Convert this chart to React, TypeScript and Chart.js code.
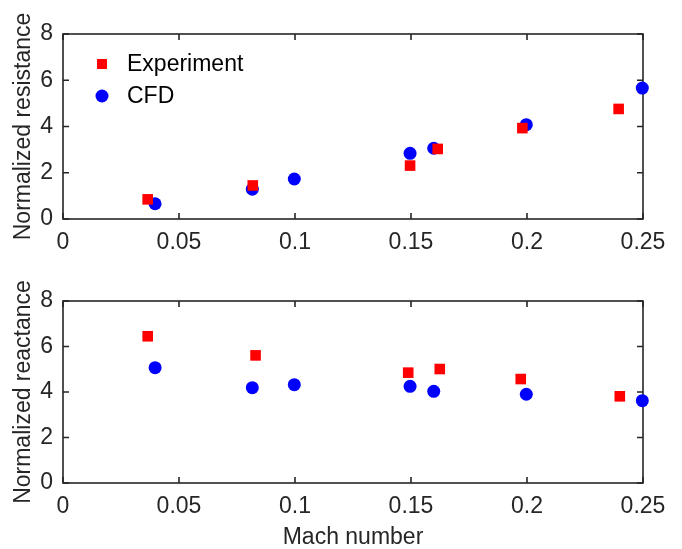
import React, { useEffect, useRef } from "react";
import { Chart, registerables } from "chart.js";

Chart.register(...registerables);

// ---- data ----
const xTicks = [0, 0.05, 0.1, 0.15, 0.2, 0.25];
const yTicks = [0, 2, 4, 6, 8];

const expMachResistance = [0.0365, 0.0818, 0.1496, 0.1615, 0.198, 0.2395];
const expResistance = [0.85, 1.45, 2.31, 3.03, 3.93, 4.76];
const expMachReactance = [0.0365, 0.083, 0.1488, 0.1624, 0.1973, 0.24];
const expReactance = [6.45, 5.61, 4.85, 5.01, 4.57, 3.81];

const cfdMach = [0.0397, 0.0816, 0.0997, 0.1496, 0.1598, 0.1997, 0.2497];
const cfdResistance = [0.66, 1.29, 1.73, 2.84, 3.06, 4.08, 5.66];
const cfdReactance = [5.07, 4.19, 4.32, 4.25, 4.03, 3.9, 3.62];

const seriesLabels = ["Experiment", "CFD"];
const yTitles = ["Normalized resistance", "Normalized reactance"];
const xTitle = "Mach number";

// ---- style ----
const FONT = '"Liberation Sans", Arial, Helvetica, sans-serif';
const FONT_SIZE = 23;
const AXIS_COLOR = "#262626";
const RED = "#ff0000";
const BLUE = "#0000ff";

const boxPlugin = {
  id: "matlabBox",
  beforeDatasetsDraw(chart: any) {
    const { ctx, chartArea: a, scales } = chart;
    ctx.save();
    ctx.strokeStyle = AXIS_COLOR;
    ctx.lineWidth = 1.6;
    ctx.strokeRect(a.left, a.top, a.right - a.left, a.bottom - a.top);
    const tl = 6;
    ctx.beginPath();
    scales.x.ticks.forEach((t: any) => {
      const px = scales.x.getPixelForValue(t.value);
      ctx.moveTo(px, a.bottom);
      ctx.lineTo(px, a.bottom - tl);
      ctx.moveTo(px, a.top);
      ctx.lineTo(px, a.top + tl);
    });
    scales.y.ticks.forEach((t: any) => {
      const py = scales.y.getPixelForValue(t.value);
      ctx.moveTo(a.left, py);
      ctx.lineTo(a.left + tl, py);
      ctx.moveTo(a.right, py);
      ctx.lineTo(a.right - tl, py);
    });
    ctx.stroke();
    ctx.restore();
  },
  afterDraw(chart: any, _args: any, opts: any) {
    if (!opts || !opts.legend) return;
    const { ctx, chartArea: a } = chart;
    ctx.save();
    ctx.font = `${FONT_SIZE}px ${FONT}`;
    ctx.textBaseline = "middle";
    ctx.textAlign = "left";
    chart.data.datasets.forEach((ds: any, i: number) => {
      const cx = a.left + 39;
      const cy = a.top + 30 + i * 32;
      ctx.fillStyle = ds.backgroundColor;
      if (ds.pointStyle === "rect") {
        ctx.fillRect(cx - 5, cy - 5, 10, 10);
      } else {
        ctx.beginPath();
        ctx.arc(cx, cy, 6.5, 0, Math.PI * 2);
        ctx.fill();
      }
      ctx.fillStyle = "#000000";
      ctx.fillText(ds.label, a.left + 64, cy + 1);
    });
    ctx.restore();
  },
};

function toPoints(xs: number[], ys: number[]) {
  return xs.map((x, i) => ({ x, y: ys[i] }));
}

function makeConfig(
  expX: number[],
  expY: number[],
  cfdY: number[],
  yTitle: string,
  showXTitle: boolean,
  height: number,
  plotTop: number,
  plotBottom: number,
  legend: boolean
): any {
  return {
    type: "scatter",
    data: {
      datasets: [
        {
          label: seriesLabels[0],
          data: toPoints(expX, expY),
          backgroundColor: RED,
          borderColor: RED,
          pointStyle: "rect",
          pointRadius: 7.5,
          pointBorderWidth: 0,
          clip: false,
        },
        {
          label: seriesLabels[1],
          data: toPoints(cfdMach, cfdY),
          backgroundColor: BLUE,
          borderColor: BLUE,
          pointStyle: "circle",
          pointRadius: 6.5,
          pointBorderWidth: 0,
          clip: false,
        },
      ],
    },
    options: {
      responsive: false,
      animation: false,
      devicePixelRatio: 1,
      layout: { padding: { top: plotTop, right: 39, left: 0, bottom: 0 } },
      plugins: {
        legend: { display: false },
        tooltip: { enabled: false },
        matlabBox: { legend },
      },
      scales: {
        x: {
          type: "linear",
          min: 0,
          max: 0.25,
          afterBuildTicks: (s: any) => {
            s.ticks = xTicks.map((v) => ({ value: v }));
          },
          afterFit: (s: any) => {
            s.height = height - plotBottom;
          },
          grid: { display: false, drawTicks: false },
          border: { display: false },
          ticks: {
            color: AXIS_COLOR,
            padding: 10,
            maxRotation: 0,
            font: { family: FONT, size: FONT_SIZE },
            callback: (v: any) => String(+Number(v).toFixed(4)),
          },
          title: {
            display: showXTitle,
            text: xTitle,
            color: AXIS_COLOR,
            font: { family: FONT, size: FONT_SIZE, lineHeight: 1 },
            padding: { top: 0, bottom: 0 },
          },
        },
        y: {
          type: "linear",
          min: 0,
          max: 8,
          afterBuildTicks: (s: any) => {
            s.ticks = yTicks.map((v) => ({ value: v }));
          },
          afterFit: (s: any) => {
            s.width = 63;
          },
          grid: { display: false, drawTicks: false },
          border: { display: false },
          ticks: {
            color: AXIS_COLOR,
            padding: 10,
            font: { family: FONT, size: FONT_SIZE },
            callback: (v: any) => String(+Number(v).toFixed(4)),
          },
          title: {
            display: true,
            text: yTitle,
            color: AXIS_COLOR,
            font: { family: FONT, size: FONT_SIZE, lineHeight: 1 },
            padding: { top: 12, bottom: 0 },
          },
        },
      },
    },
    plugins: [boxPlugin],
  };
}

function Panel(props: { config: any; width: number; height: number }) {
  const ref = useRef<HTMLCanvasElement | null>(null);
  useEffect(() => {
    if (!ref.current) return;
    const chart = new Chart(ref.current, props.config);
    return () => chart.destroy();
  }, []);
  return (
    <canvas
      ref={ref}
      width={props.width}
      height={props.height}
      style={{ display: "block", width: props.width, height: props.height }}
    />
  );
}

export default function App() {
  const topCfg = makeConfig(
    expMachResistance,
    expResistance,
    cfdResistance,
    yTitles[0],
    false,
    270,
    34,
    219,
    true
  );
  const botCfg = makeConfig(
    expMachReactance,
    expReactance,
    cfdReactance,
    yTitles[1],
    true,
    279,
    31,
    213,
    false
  );
  return (
    <div
      style={{
        position: "absolute",
        left: 0,
        top: 0,
        width: 682,
        height: 549,
        background: "#ffffff",
      }}
    >
      <Panel config={topCfg} width={682} height={270} />
      <Panel config={botCfg} width={682} height={279} />
    </div>
  );
}
